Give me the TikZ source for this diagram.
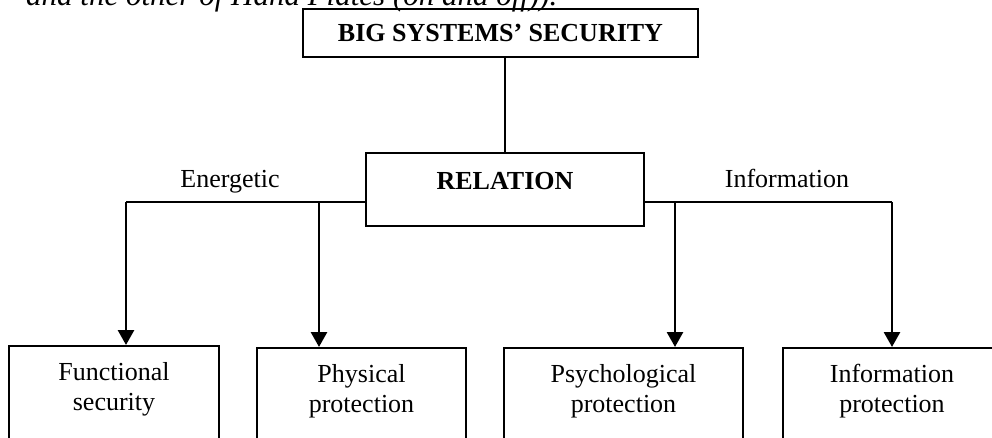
\documentclass[tikz,border=0pt]{standalone}
\usepackage{fontspec}
\setmainfont{Liberation Serif}
\usetikzlibrary{arrows.meta}
\tikzset{
  bx/.style={draw, line width=1.8pt, inner sep=0pt},
  lbl/.style={anchor=north, inner sep=0pt, align=center, font=\fontsize{26}{30}\selectfont},
  conn/.style={line width=2.4pt},
  arr/.style={line width=2.8pt, -{Triangle[length=15pt,width=16pt]}},
  word/.style={anchor=base, inner sep=0pt, font=\fontsize{26}{30}\selectfont},
}
\begin{document}
\begin{tikzpicture}[x=1pt,y=-1pt]
\useasboundingbox (0,0) rectangle (992,438);
\clip (0,0) rectangle (992,438);
% cut-off caption line at top
\node[anchor=base west, inner sep=0pt, font=\fontsize{31}{36}\selectfont\itshape] (cap) at (26,5.5) {and the other of Hand Plates (on and off)).};
% boxes
\node[bx, minimum width=395pt, minimum height=48pt, font=\fontsize{26}{30}\selectfont\bfseries] (top) at (500.5,33) {BIG SYSTEMS’ SECURITY};
\node[bx, minimum width=278pt, minimum height=73pt, text height=19pt, text depth=18pt, font=\fontsize{26}{30}\selectfont\bfseries] (rel) at (505,189.5) {RELATION};
\node[bx, anchor=north, minimum width=210pt, minimum height=130pt,
  label={[lbl, yshift=-17pt]north:Functional\\security}] (fs) at (114,345) {};
\node[bx, anchor=north, minimum width=209pt, minimum height=130pt,
  label={[lbl, yshift=-17pt]north:Physical\\protection}] (pp) at (361.5,347) {};
\node[bx, anchor=north, minimum width=239pt, minimum height=130pt,
  label={[lbl, yshift=-17pt]north:Psychological\\protection}] (sp) at (623.5,347) {};
\node[bx, anchor=north, minimum width=218pt, minimum height=130pt,
  label={[lbl, yshift=-17pt]north:Information\\protection}] (ip) at (892,347) {};
% branch labels
\node[word] (en) at (230,188) {Energetic};
\node[word] (in) at (787,188) {Information};
% branch points
\coordinate (e1) at (126,202);
\coordinate (e2) at (319,202);
\coordinate (i1) at (675,202);
\coordinate (i2) at (892,202);
% connectors
\draw[line width=1.7pt] (rel.north |- top.south) -- (rel.north);
\draw[conn] (rel.west |- e1) -- (e1);
\draw[conn] (rel.east |- i2) -- (i2);
\draw[arr] (e1) -- (e1 |- fs.north);
\draw[arr] (e2) -- (e2 |- pp.north);
\draw[arr] (i1) -- (i1 |- sp.north);
\draw[arr] (i2) -- (i2 |- ip.north);
\end{tikzpicture}
\end{document}
